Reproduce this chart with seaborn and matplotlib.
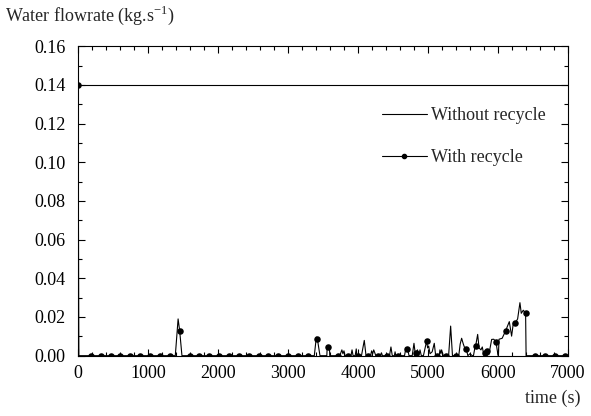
import numpy as np
import pandas as pd
import matplotlib
matplotlib.use("Agg")
import matplotlib.pyplot as plt
from matplotlib.lines import Line2D
from matplotlib.ticker import MultipleLocator, FormatStrFormatter
import seaborn as sns

# ---- data ----
# Without recycle: constant flowrate
t_without = [0, 7000]
q_without = [0.14, 0.14]

# With recycle: marker samples (time s, flowrate kg/s)
t_mark = [0, 183, 324, 465, 606, 747, 888, 1029, 1170, 1311, 1452, 1593, 1734,
          1875, 2016, 2157, 2298, 2439, 2580, 2721, 2862, 3003, 3144, 3285,
          3420, 3576, 3712, 3852, 3995, 4138, 4281, 4420, 4565, 4700, 4833,
          4981, 5124, 5262, 5404, 5548, 5681, 5814, 5850, 5971, 6110, 6248,
          6395, 6529, 6676, 6819, 6961]
q_mark = [0.14, 0, 0, 0, 0, 0, 0, 0, 0, 0, 0.013, 0, 0,
          0, 0, 0, 0, 0, 0, 0, 0, 0, 0, 0,
          0.0086, 0.0045, 0, 0, 0, 0, 0, 0, 0, 0.0036, 0.0015,
          0.0076, 0, 0, 0, 0.0033, 0.005, 0.0015, 0.0022, 0.0072, 0.0129, 0.017,
          0.0219, 0, 0, 0, 0]

# With recycle: additional intermediate points of the fine trace
t_fine = [12, 1390, 1430, 1485,
          3376, 3405, 3457, 3555, 3560, 3592, 3597,
          3740, 3755, 3770, 3785, 3800, 3815, 3900, 3915, 3930, 3960, 3975, 3985,
          4050, 4090, 4115, 4180, 4195, 4210, 4225, 4240, 4255, 4320, 4335, 4350,
          4450, 4471, 4490, 4520, 4530, 4540,
          4665, 4685, 4715, 4729, 4775, 4800, 4815, 4850, 4870, 4886, 4905,
          4935, 4995, 5010, 5029, 5060, 5090, 5110,
          5160, 5171, 5185, 5195, 5219, 5295, 5324, 5350,
          5440, 5460, 5481, 5505, 5525, 5570, 5600, 5633,
          5650, 5670, 5710, 5730, 5757, 5776, 5795, 5830, 5870,
          5910, 5940, 6000, 6006, 6015, 6060, 6162, 6195, 6219,
          6281, 6314, 6333, 6362, 6402]
q_fine = [0, 0, 0.019, 0,
          0, 0.0096, 0, 0, 0.0045, 0.0045, 0,
          0, 0.0015, 0.003, 0.001, 0.0025, 0, 0, 0.003, 0, 0, 0.0035, 0,
          0, 0.0079, 0, 0, 0.0025, 0.001, 0.003, 0.0015, 0, 0, 0.0015, 0,
          0, 0.0045, 0, 0, 0.002, 0,
          0, 0.004, 0.0025, 0, 0, 0.0064, 0.002, 0.003, 0, 0.003, 0,
          0, 0.004, 0.005, 0.001, 0.002, 0.0064, 0,
          0, 0.003, 0.001, 0.003, 0, 0, 0.0153, 0,
          0, 0.006, 0.009, 0.006, 0.004, 0, 0.001, 0,
          0, 0.004, 0.011, 0.004, 0.003, 0.0045, 0.001, 0.0005, 0.0005,
          0.0084, 0.0085, 0.0005, 0, 0.0085, 0.009, 0.0176, 0.0101, 0.0167,
          0.019, 0.0274, 0.0219, 0.0235, 0]

x_ticks = [0, 1000, 2000, 3000, 4000, 5000, 6000, 7000]
y_ticks = [0.00, 0.02, 0.04, 0.06, 0.08, 0.10, 0.12, 0.14, 0.16]

# ---- build tables ----
df_without = pd.DataFrame({"t": t_without, "q": q_without})
df_line = pd.DataFrame({"t": t_mark + t_fine, "q": q_mark + q_fine}).sort_values("t")
df_mark = pd.DataFrame({"t": t_mark, "q": q_mark})

sns.set_theme(style="ticks")
plt.rcParams["font.family"] = ["Liberation Serif", "DejaVu Serif"]
plt.rcParams["mathtext.fontset"] = "custom"
plt.rcParams["mathtext.rm"] = "Liberation Serif"

fig = plt.figure(figsize=(5.91, 4.16), dpi=100)
ax = fig.add_axes([0.132, 0.145, 0.829, 0.744])

sns.lineplot(data=df_without, x="t", y="q", ax=ax, color="black", lw=0.8,
             estimator=None, sort=False)
sns.lineplot(data=df_line, x="t", y="q", ax=ax, color="black", lw=0.8,
             estimator=None, sort=False)
sns.scatterplot(data=df_mark, x="t", y="q", ax=ax, color="black", marker="o",
                s=22, linewidth=0, zorder=3)

ax.set_xlim(0, 7000)
ax.set_ylim(0, 0.16)
ax.set_xticks(x_ticks)
ax.set_yticks(y_ticks)
ax.yaxis.set_major_formatter(FormatStrFormatter("%.2f"))
ax.xaxis.set_minor_locator(MultipleLocator(200))
ax.yaxis.set_minor_locator(MultipleLocator(0.01))
ax.tick_params(which="both", direction="in", top=True, right=True,
               colors="black", labelsize=13, width=0.8)
ax.tick_params(which="major", length=5, pad=7)
ax.tick_params(which="minor", length=3)
ax.tick_params(axis="y", pad=9)
for s in ax.spines.values():
    s.set_visible(True)
    s.set_linewidth(0.8)
    s.set_color("black")
ax.set_xlabel("")
ax.set_ylabel("")

handles = [Line2D([], [], color="black", lw=0.8),
           Line2D([], [], color="black", lw=0.8, marker="o", markersize=3)]
ax.legend(handles, ["Without recycle", "With recycle"], loc="upper left",
          bbox_to_anchor=(0.62, 0.802), frameon=False, fontsize=13,
          handlelength=2.5, handletextpad=0.25, labelspacing=1.37,
          borderpad=0, borderaxespad=0)

fig.text(0.008, 0.962, "Water flowrate (kg.s$^{-1}$)", fontsize=13,
         ha="left", va="center")
fig.text(0.936, 0.043, "time (s)", fontsize=13, ha="center", va="center")

fig.savefig("out.png", dpi=100)
